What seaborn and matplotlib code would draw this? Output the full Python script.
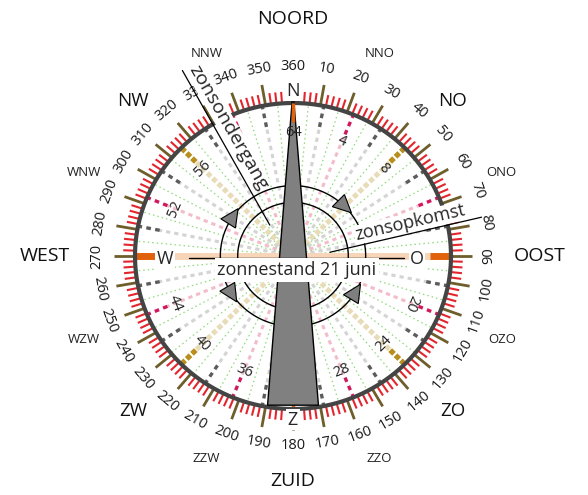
import numpy as np
import matplotlib
matplotlib.use("Agg")
import matplotlib.pyplot as plt
import seaborn as sns
from matplotlib.patches import Polygon

# compass names (azimuth in degrees, clockwise from north)
cardinal_names = ["NOORD", "OOST", "ZUID", "WEST"]
cardinal_az = [0, 90, 180, 270]
inter_names = ["NO", "ZO", "ZW", "NW"]
inter_az = [45, 135, 225, 315]
minor_names = ["NNO", "ONO", "OZO", "ZZO", "ZZW", "WZW", "WNW", "NNW"]
minor_az = [22.5, 67.5, 112.5, 157.5, 202.5, 247.5, 292.5, 337.5]
inner_names = ["N", "O", "Z", "W"]
inner_az = [0, 90, 180, 270]

# degree scale labels
degree_labels = [360, 10, 20, 30, 40, 50, 60, 70, 80, 90, 100, 110, 120,
                 130, 140, 150, 160, 170, 180, 190, 200, 210, 220, 230,
                 240, 250, 260, 270, 280, 290, 300, 310, 320, 330, 340, 350]

# 64-point division labels that are visible
div_labels = [64, 4, 8, 20, 24, 28, 36, 40, 44, 52, 56]
n_div = 64

# sun annotations
sun_texts = ["zonsondergang", "zonsopkomst"]
sun_line_az = [(324, 330), (84, 78)]
sun_line_r = [(0.25, 1.40), (0.235, 1.22)]
arrow_az = [303, 44, 122, 238.6]
arrow_dir = [1, 1, -1, -1]
title_text = "zonnestand 21 juni"

sns.set_style("white")
plt.rcParams['font.family'] = ['Open Sans', 'DejaVu Sans']

CX, CY, RX, RY = 293, 256, 158, 153
W, H = 588, 495


def xy(az, r):
    a = np.deg2rad(np.asarray(az, dtype=float))
    return r * np.sin(a), r * np.cos(a)


def seg(az, r0, r1, **kw):
    x0, y0 = xy(az, r0)
    x1, y1 = xy(az, r1)
    ax.plot([x0, x1], [y0, y1], solid_capstyle='butt', **kw)


fig = plt.figure(figsize=(W / 100, H / 100), dpi=100)
ax = fig.add_axes([0, 0, 1, 1])
ax.set_xlim(-CX / RX, (W - CX) / RX)
ax.set_ylim(-(H - CY) / RY, CY / RY)
ax.axis('off')

# radial division lines
for k in range(n_div):
    az = k * 360 / n_div
    if k % 16 == 0:
        continue
    if k % 8 == 0:
        seg(az, 0.06, 0.87, color="#e8dcb8", lw=3.6, dashes=(1.0, 0.5), zorder=1)
        seg(az, 0.87, 0.99, color="#b88f1c", lw=3.8, dashes=(1.0, 0.4), zorder=1)
    elif k % 4 == 0:
        seg(az, 0.06, 0.86, color="#f2bdcb", lw=2.2, dashes=(1.4, 1.3), zorder=1)
        seg(az, 0.86, 0.99, color="#d3175c", lw=2.4, dashes=(1.4, 1.3), zorder=1)
    elif k % 2 == 0:
        seg(az, 0.06, 0.86, color="#d4d4d4", lw=2.2, dashes=(1.4, 1.3), zorder=1)
        seg(az, 0.86, 0.99, color="#5c5c5c", lw=2.4, dashes=(1.4, 1.3), zorder=1)
    else:
        seg(az, 0.06, 0.99, color="#8edb7a", lw=0.9, dashes=(1.2, 2.4), zorder=1)

# cardinal lines
ax.plot([xy(270, 0.87)[0], xy(90, 0.87)[0]], [0, 0], color="#f7d5b9", lw=5, zorder=1.5)
for az in (90, 270):
    seg(az, 0.87, 1.0, color="#e0620c", lw=5, zorder=2)
seg(0, 0.875, 1.0, color="#e0620c", lw=2.5, zorder=6)
seg(180, 0.965, 1.0, color="#e0620c", lw=2.5, zorder=2)

# rim and scale ticks
th = np.linspace(0, 360, 721)
ax.plot(*xy(th, 1.0), color="#444444", lw=3, zorder=3)
for d in range(0, 360, 2):
    if d % 10:
        seg(d, 1.01, 1.075, color="#e3262e", lw=1.5, zorder=2)
for d in range(0, 360, 10):
    seg(d, 1.0, 1.135, color="#6e5e2c", lw=2, zorder=2)

for lab in degree_labels:
    d = lab % 360
    rot = 180 - d if 90 <= d < 270 else -d
    x, y = xy(d, 1.24)
    ax.text(x, y, str(lab), fontsize=10.5, rotation=rot, rotation_mode='anchor',
            ha='center', va='center', color="#1a1a1a", zorder=4)

# inner circles and arrows
ax.plot(*xy(th, 0.46), color="black", lw=1, zorder=4)
ax.plot(*xy(th, 0.35), color="black", lw=1, zorder=4)
for az, dr in zip(arrow_az, arrow_dir):
    a = np.deg2rad(az)
    c = np.array(xy(az, 0.46))
    t = np.array([np.cos(a), -np.sin(a)]) * dr
    n = np.array([np.sin(a), np.cos(a)])
    pts = [c + t * 0.07, c - t * 0.045 + n * 0.055, c - t * 0.045 - n * 0.055]
    ax.add_patch(Polygon(pts, closed=True, facecolor="#7f7f7f",
                         edgecolor="black", lw=0.8, zorder=6))

# needle
ax.add_patch(Polygon([(0, 1.08), (-0.161, -0.975), (0.161, -0.975)], closed=True,
                     facecolor="#808080", edgecolor="black", lw=1, zorder=5))

# division numbers
for lab in div_labels:
    d = (lab % n_div) * 360 / n_div
    rot = 180 - d if 112.5 < d < 270 else -d
    x, y = xy(d, 0.81)
    ax.text(x, y, str(lab), fontsize=10.5, rotation=rot, rotation_mode='anchor',
            ha='center', va='center', color="#222222", zorder=6.5)

# black horizontal line through centre
ax.plot([-0.66, 0.70], [-0.01, -0.01], color="black", lw=1, zorder=6)

box = dict(facecolor='white', edgecolor='none', pad=1.0)
inner_r = [1.08, 0.785, 1.07, 0.81]
for name, az, r in zip(inner_names, inner_az, inner_r):
    x, y = xy(az, r)
    ax.text(x, y - 0.02 * (az in (90, 270)), name, fontsize=13, ha='center', va='center',
            bbox=box, zorder=7)

# compass names
cr = [1.55, 1.56, 1.47, 1.57]
for name, az, r in zip(cardinal_names, cardinal_az, cr):
    x, y = xy(az, r)
    ax.text(x, y, name, fontsize=14, ha='center', va='center', color="#111111")
for name, az in zip(inter_names, inter_az):
    x, y = xy(az, 1.43)
    ax.text(x, y, name, fontsize=13.5, ha='center', va='center', color="#111111")
for name, az in zip(minor_names, minor_az):
    x, y = xy(az, 1.43)
    ax.text(x, y, name, fontsize=9.5, ha='center', va='center', color="#222222", zorder=8)

# sun annotations
ax.text(-0.41, 0.84, sun_texts[0], fontsize=14, rotation=-60, rotation_mode='anchor',
        ha='center', va='center', bbox=dict(facecolor='white', edgecolor='none', pad=0.3), zorder=7)
ax.text(0.74, 0.216, sun_texts[1], fontsize=13, rotation=13, rotation_mode='anchor',
        ha='center', va='center', bbox=dict(facecolor='white', edgecolor='none', pad=0.5), zorder=7)
for (a0, a1), (r0, r1) in zip(sun_line_az, sun_line_r):
    x0, y0 = xy(a0, r0)
    x1, y1 = xy(a1, r1)
    ax.plot([x0, x1], [y0, y1], color="black", lw=0.9, zorder=8)

ax.text(0.025, -0.092, title_text, fontsize=13, ha='center', va='center',
        bbox=dict(facecolor='white', edgecolor='none', pad=2), zorder=7)

fig.savefig("out.png", dpi=100)
